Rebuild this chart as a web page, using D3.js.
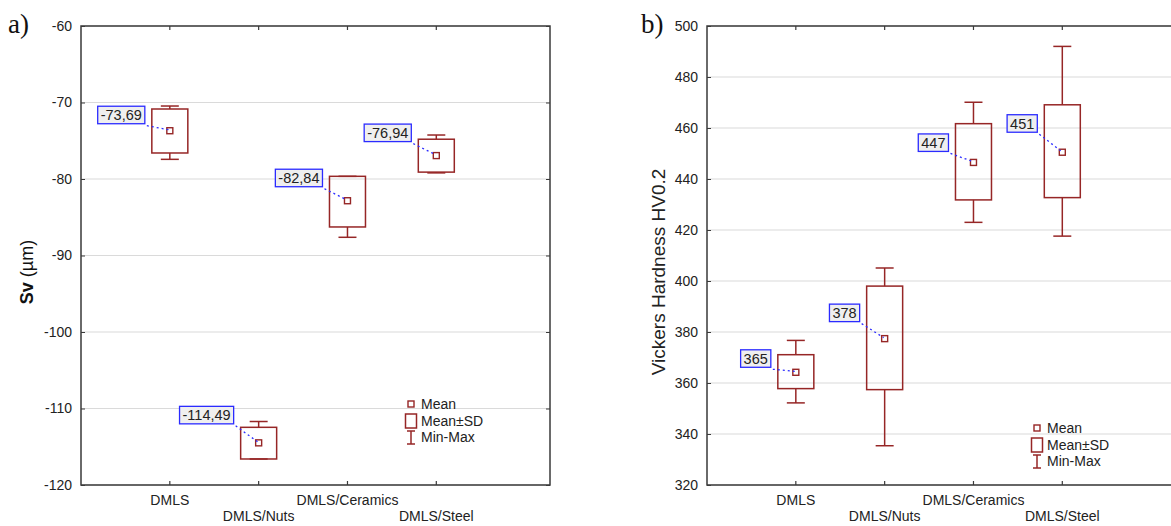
<!DOCTYPE html>
<html>
<head>
<meta charset="utf-8">
<script src="https://cdn.jsdelivr.net/npm/d3@7"></script>
<style>
  body { margin: 0; background: #fff; }
  svg { display: block; font-family: "Liberation Sans", Arial, sans-serif; }
</style>
</head>
<body>
<div id="chart"></div>
<script>
// categories
var groups = ["DMLS", "DMLS/Nuts", "DMLS/Ceramics", "DMLS/Steel"];

// panel a) Sv (um)
var svMean   = [-73.69, -114.49, -82.84, -76.94];
var svSdHigh = [-70.85, -112.46, -79.65, -74.8];
var svSdLow  = [-76.6, -116.6, -86.27, -79.1];
var svMax    = [-70.46, -111.7, -79.65, -74.25];
var svMin    = [-77.43, -116.6, -87.62, -79.2];
var svLabels = ["-73,69", "-114,49", "-82,84", "-76,94"];
var svTicks  = [-60, -70, -80, -90, -100, -110, -120];

// panel b) Vickers hardness
var hvMean   = [364.2, 377.4, 446.5, 450.5];
var hvSdHigh = [371.1, 398.0, 461.7, 469.1];
var hvSdLow  = [357.8, 357.4, 431.8, 432.7];
var hvMax    = [376.7, 405.1, 470.1, 492.0];
var hvMin    = [352.2, 335.4, 423.0, 417.6];
var hvLabels = ["365", "378", "447", "451"];
var hvTicks  = [500, 480, 460, 440, 420, 400, 380, 360, 340, 320];

var W = 1171, H = 526;
var red = "#962626", blue = "#2b2bff";

var svg = d3.select("#chart").append("svg")
  .attr("width", W).attr("height", H);

function rows(mean, sdHi, sdLo, mx, mn, labels) {
  return groups.map(function(g, i) {
    return {g: g, i: i, mean: mean[i], hi: sdHi[i], lo: sdLo[i], max: mx[i], min: mn[i], label: labels[i]};
  });
}

function drawPanel(o) {
  var left = o.left, top = 26, w = 469, h = 459;
  var x = d3.scaleLinear().domain([0, 5.28]).range([left, left + w]);
  var y = d3.scaleLinear().domain(o.domain).range([top + h, top]);
  var g = svg.append("g");

  // grid
  g.selectAll("line.grid").data(o.ticks).enter().append("line")
    .attr("x1", left).attr("x2", left + w)
    .attr("y1", function(d){ return y(d); }).attr("y2", function(d){ return y(d); })
    .attr("stroke", "#dadada").attr("stroke-width", 1.2);

  // frame
  g.append("rect").attr("x", left).attr("y", top).attr("width", w).attr("height", h)
    .attr("fill", "none").attr("stroke", "#3a3a3a").attr("stroke-width", 1.5);

  // y ticks + labels
  var yAxis = d3.axisLeft(y).tickValues(o.ticks).tickSize(-4).tickPadding(9)
    .tickFormat(function(d){ return String(d); });
  var ya = g.append("g").attr("transform", "translate(" + left + ",0)").call(yAxis);
  ya.select(".domain").remove();
  ya.selectAll("line").attr("stroke", "#3a3a3a");
  ya.selectAll("text").style("font-size", "14px").attr("fill", "#222");
  var yr = g.append("g").attr("transform", "translate(" + (left + w) + ",0)")
    .call(d3.axisRight(y).tickValues(o.ticks).tickSize(-4).tickFormat(""));
  yr.select(".domain").remove();
  yr.selectAll("line").attr("stroke", "#3a3a3a");

  // x ticks (top and bottom)
  [top, top + h].forEach(function(yy, k) {
    g.selectAll(null).data(groups).enter().append("line")
      .attr("x1", function(d, i){ return x(i + 1); }).attr("x2", function(d, i){ return x(i + 1); })
      .attr("y1", yy).attr("y2", k ? yy - 4 : yy + 4)
      .attr("stroke", "#3a3a3a").attr("stroke-width", 1.2);
  });
  g.selectAll("text.xl").data(groups).enter().append("text")
    .attr("x", function(d, i){ return x(i + 1); })
    .attr("y", function(d, i){ return i % 2 ? 521 : 505; })
    .attr("text-anchor", "middle").style("font-size", "14px").attr("fill", "#222")
    .text(function(d){ return d; });

  var data = rows.apply(null, o.data);
  var bw = 36, cw = 18;
  var b = g.selectAll("g.box").data(data).enter().append("g");
  // whiskers
  b.append("line").attr("x1", function(d){ return x(d.i + 1); }).attr("x2", function(d){ return x(d.i + 1); })
    .attr("y1", function(d){ return y(d.max); }).attr("y2", function(d){ return y(d.hi); })
    .attr("stroke", red).attr("stroke-width", 1.5);
  b.append("line").attr("x1", function(d){ return x(d.i + 1); }).attr("x2", function(d){ return x(d.i + 1); })
    .attr("y1", function(d){ return y(d.lo); }).attr("y2", function(d){ return y(d.min); })
    .attr("stroke", red).attr("stroke-width", 1.5);
  ["max", "min"].forEach(function(k) {
    b.append("line").attr("x1", function(d){ return x(d.i + 1) - cw / 2; }).attr("x2", function(d){ return x(d.i + 1) + cw / 2; })
      .attr("y1", function(d){ return y(d[k]); }).attr("y2", function(d){ return y(d[k]); })
      .attr("stroke", red).attr("stroke-width", 1.5);
  });
  // SD box
  b.append("rect").attr("x", function(d){ return x(d.i + 1) - bw / 2; }).attr("width", bw)
    .attr("y", function(d){ return y(d.hi); }).attr("height", function(d){ return y(d.lo) - y(d.hi); })
    .attr("fill", "none").attr("stroke", red).attr("stroke-width", 1.5);
  // mean
  b.append("rect").attr("x", function(d){ return x(d.i + 1) - 3; }).attr("y", function(d){ return y(d.mean) - 3; })
    .attr("width", 6).attr("height", 6).attr("fill", "#fff").attr("stroke", red).attr("stroke-width", 1.4);

  // value labels
  b.each(function(d) {
    var sel = d3.select(this);
    var mx = x(d.i + 1), my = y(d.mean);
    var rx = mx - 25, by = my - o.labelDy[d.i];
    sel.append("line").attr("x1", rx + 2).attr("y1", by + 2).attr("x2", mx - 1).attr("y2", my - 1)
      .attr("stroke", blue).attr("stroke-width", 1.3).attr("stroke-dasharray", "2,3");
    var t = sel.append("text").style("font-size", "14.5px").attr("fill", "#222")
      .attr("text-anchor", "end").attr("x", rx - 3).attr("y", by - 3.5).text(d.label);
    var tw = t.node().getComputedTextLength();
    sel.insert("rect", "text").attr("x", rx - tw - 6).attr("y", by - 17.5).attr("width", tw + 6).attr("height", 17.5)
      .attr("fill", "#efefef").attr("stroke", blue).attr("stroke-width", 1.3);
  });

  // legend
  var lx = left + 330, ly = o.legendY;
  var lg = g.append("g");
  lg.append("rect").attr("x", lx - 3).attr("y", ly - 3).attr("width", 6).attr("height", 6)
    .attr("fill", "#fff").attr("stroke", red).attr("stroke-width", 1.4);
  lg.append("rect").attr("x", lx - 5.5).attr("y", ly + 10).attr("width", 11).attr("height", 14)
    .attr("fill", "none").attr("stroke", red).attr("stroke-width", 1.5);
  lg.append("line").attr("x1", lx).attr("x2", lx).attr("y1", ly + 27).attr("y2", ly + 40).attr("stroke", red).attr("stroke-width", 1.5);
  lg.append("line").attr("x1", lx - 4).attr("x2", lx + 4).attr("y1", ly + 27).attr("y2", ly + 27).attr("stroke", red).attr("stroke-width", 1.5);
  lg.append("line").attr("x1", lx - 4).attr("x2", lx + 4).attr("y1", ly + 40).attr("y2", ly + 40).attr("stroke", red).attr("stroke-width", 1.5);
  ["Mean", "Mean\u00b1SD", "Min-Max"].forEach(function(s, k) {
    lg.append("text").attr("x", lx + 10).attr("y", ly + 5 + k * 16.5)
      .style("font-size", "14px").attr("fill", "#222").text(s);
  });

  // panel letter
  svg.append("text").attr("x", o.letterX).attr("y", 33)
    .style("font-family", "'Liberation Serif', 'Times New Roman', serif").style("font-size", "27px")
    .attr("fill", "#111").text(o.letter);
}

drawPanel({left: 81, domain: [-120, -60], ticks: svTicks, letter: "a)", letterX: 8,
  data: [svMean, svSdHigh, svSdLow, svMax, svMin, svLabels], labelDy: [7, 19, 14, 14], legendY: 404});
drawPanel({left: 707, domain: [320, 500], ticks: hvTicks, letter: "b)", letterX: 641,
  data: [hvMean, hvSdHigh, hvSdLow, hvMax, hvMin, hvLabels], labelDy: [5, 17, 11, 20], legendY: 428});

// axis titles
var ta = svg.append("text").attr("transform", "translate(33,272) rotate(-90)")
  .attr("text-anchor", "middle").style("font-size", "18px").attr("fill", "#111");
ta.append("tspan").style("font-weight", "bold").text("Sv");
ta.append("tspan").text(" (\u00b5m)");
svg.append("text").attr("transform", "translate(665,272) rotate(-90)")
  .attr("text-anchor", "middle").style("font-size", "19px").attr("fill", "#222")
  .text("Vickers Hardness HV0.2");
</script>
</body>
</html>
